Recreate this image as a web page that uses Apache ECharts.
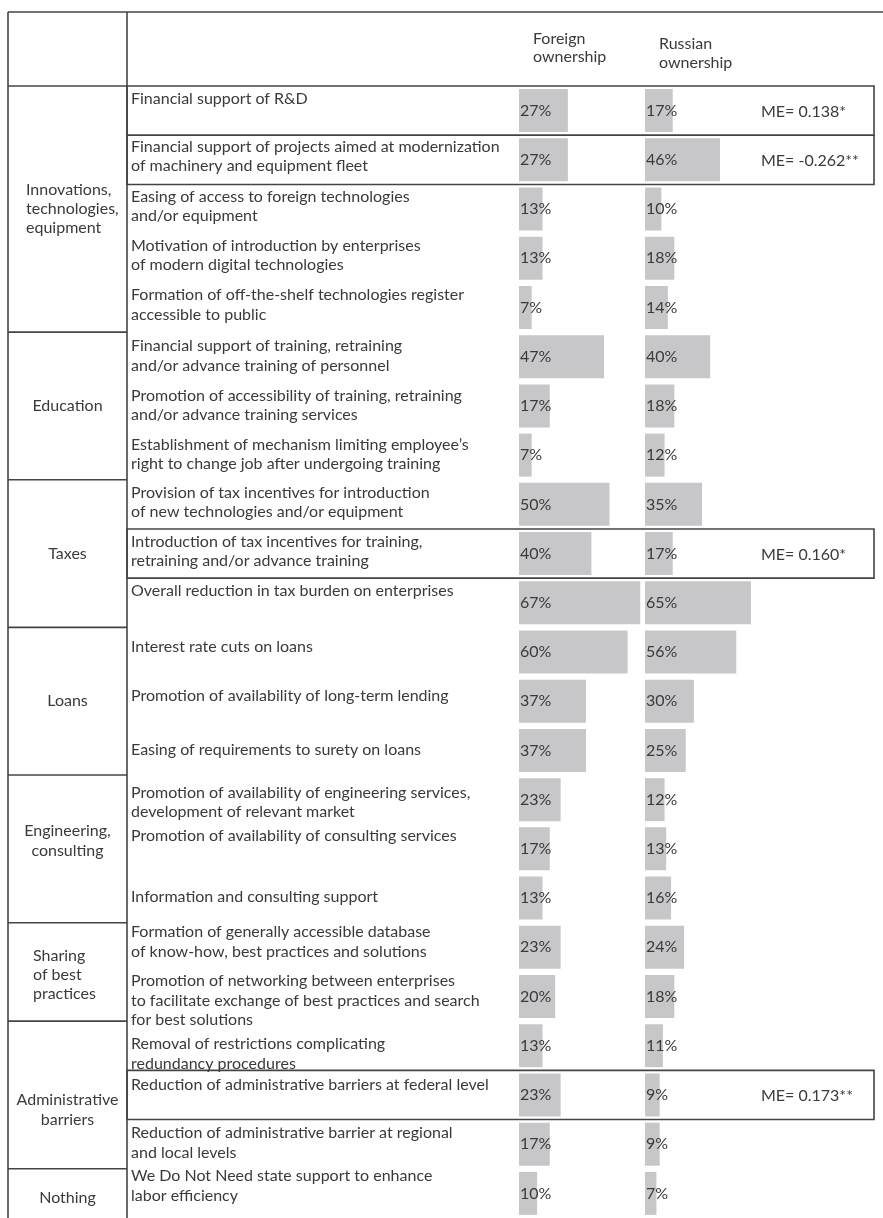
<!DOCTYPE html>
<html>
<head>
    <meta charset="UTF-8">
    <title>State support measures</title>
    <script src="https://cdn.jsdelivr.net/npm/echarts/dist/echarts.min.js"></script>
    <style>
        html, body { margin: 0; padding: 0; background: #fff; }
        #main { width: 883px; height: 1218px; }
    </style>
</head>
<body>
    <div id="main"></div>
    <script>
        // groups of measures (first column) and how many rows each one has
        var groups = ['Innovations,\ntechnologies,\nequipment', 'Education', 'Taxes', 'Loans',
            'Engineering,\nconsulting', 'Sharing\nof best\npractices', 'Administrative\nbarriers', 'Nothing'];
        var groupSizes = [5, 3, 3, 3, 3, 2, 3, 1];

        var measures = [
            'Financial support of R&D',
            'Financial support of projects aimed at modernization\nof machinery and equipment fleet',
            'Easing of access to foreign technologies\nand/or equipment',
            'Motivation of introduction by enterprises\nof modern digital technologies',
            'Formation of off-the-shelf technologies register\naccessible to public',
            'Financial support of training, retraining\nand/or advance training of personnel',
            'Promotion of accessibility of training, retraining\nand/or advance training services',
            'Establishment of mechanism limiting employee\u2019s\nright to change job after undergoing training',
            'Provision of tax incentives for introduction\nof new technologies and/or equipment',
            'Introduction of tax incentives for training,\nretraining and/or advance training',
            'Overall reduction in tax burden on enterprises',
            'Interest rate cuts on loans',
            'Promotion of availability of long-term lending',
            'Easing of requirements to surety on loans',
            'Promotion of availability of engineering services,\ndevelopment of relevant market',
            'Promotion of availability of consulting services',
            'Information and consulting support',
            'Formation of generally accessible database\nof know-how, best practices and solutions',
            'Promotion of networking between enterprises\nto facilitate exchange of best practices and search\nfor best solutions',
            'Removal of restrictions complicating\nredundancy procedures',
            'Reduction of administrative barriers at federal level',
            'Reduction of administrative barrier at regional\nand local levels',
            'We Do Not Need state support to enhance\nlabor efficiency'
        ];

        var foreign = [27, 27, 13, 13, 7, 47, 17, 7, 50, 40, 67, 60, 37, 37, 23, 17, 13, 23, 20, 13, 23, 17, 10];
        var russian = [17, 46, 10, 18, 14, 40, 18, 12, 35, 17, 65, 56, 30, 25, 12, 13, 16, 24, 18, 11, 9, 9, 7];

        // significant marginal effects (row index -> label)
        var meRows = [0, 1, 9, 20];
        var meLabels = ['ME= 0.138*', 'ME= -0.262**', 'ME= 0.160*', 'ME= 0.173**'];

        var headers = ['Foreign\nownership', 'Russian\nownership'];

        // layout tweaks
        var FONT = '16px Lato';
        var TEXT = '#3a3a3a';
        var LINE = '#444';
        var descOffset = [12.5, 11.6, 12.2, 11.8, 12.4, 14, 14.3, 13.9, 13, 12.5, 13, 19.7, 19.6, 24.2,
            17.5, 11.5, 23, 9.4, 9, 23, 14, 13.5, 7.4];
        var groupDy = [0, 0, 0, 0, -8, 3, 15, 4];

        var myChart = echarts.init(document.getElementById('main'));

        function barSeries(idx, data) {
            return {
                type: 'bar',
                xAxisIndex: idx,
                yAxisIndex: idx,
                data: data,
                barWidth: 43,
                silent: true,
                itemStyle: { color: '#c7c7c9' },
                label: {
                    show: true,
                    position: 'insideLeft',
                    distance: 1,
                    formatter: '{c}%',
                    color: TEXT,
                    fontFamily: 'Lato',
                    fontSize: 16
                }
            };
        }

        var option = {
            animation: false,
            grid: [
                { left: 519, top: 86, width: 181, height: 1136 },
                { left: 645, top: 86, width: 163, height: 1136 }
            ],
            xAxis: [
                { gridIndex: 0, type: 'value', min: 0, max: 100, show: false },
                { gridIndex: 1, type: 'value', min: 0, max: 100, show: false }
            ],
            yAxis: [
                { gridIndex: 0, type: 'category', data: measures, inverse: true, show: false },
                { gridIndex: 1, type: 'category', data: measures, inverse: true, show: false }
            ],
            series: [barSeries(0, foreign), barSeries(1, russian)]
        };

        myChart.setOption(option);

        // table lines and texts placed from the category axis
        var c0 = myChart.convertToPixel({ yAxisIndex: 0 }, 0);
        var c1 = myChart.convertToPixel({ yAxisIndex: 0 }, 1);
        var rowH = c1 - c0;
        function rowTop(i) {
            return c0 + (i - 0.5) * rowH;
        }

        var g = [];
        function line(x1, y1, x2, y2) {
            g.push({ type: 'line', silent: true, z: 10, shape: { x1: x1, y1: y1, x2: x2, y2: y2 },
                style: { stroke: LINE, lineWidth: 1.6 } });
        }
        function text(x, y, str, align, valign, lh) {
            g.push({ type: 'text', silent: true, z: 10, x: x, y: y,
                style: { text: str, font: FONT, fill: TEXT, align: align, verticalAlign: valign, lineHeight: lh } });
        }

        // frame
        line(8, 12, 883, 12);
        line(8, 12, 8, 1218);
        line(127, 12, 127, 1218);

        // groups
        var start = 0;
        groups.forEach(function (name, k) {
            var top = rowTop(start);
            line(8, top, 127, top);
            var cy = top + groupSizes[k] * rowH / 2 + groupDy[k];
            if (k === 0) {
                text(26, cy, name, 'left', 'middle', 19);
            } else if (k === 5) {
                text(33, cy, name, 'left', 'middle', 19);
            } else {
                text(67.5, cy, name, 'center', 'middle', 19.5);
            }
            start += groupSizes[k];
        });

        // boxes around rows with significant effects
        meRows.forEach(function (r, k) {
            var top = rowTop(r);
            g.push({ type: 'rect', silent: true, z: 10,
                shape: { x: 127, y: top, width: 747, height: rowH },
                style: { fill: 'none', stroke: LINE, lineWidth: 1.6 } });
            text(761, top + rowH / 2 + 1, meLabels[k], 'left', 'middle', 20);
        });

        // measure descriptions
        measures.forEach(function (m, i) {
            text(131, rowTop(i) + descOffset[i] - 9.75, m, 'left', 'top', 19.5);
        });

        // column headers
        text(533, 30, headers[0], 'left', 'top', 18);
        text(659, 34, headers[1], 'left', 'top', 19);

        myChart.setOption({ graphic: { elements: g } });
    </script>
</body>
</html>
